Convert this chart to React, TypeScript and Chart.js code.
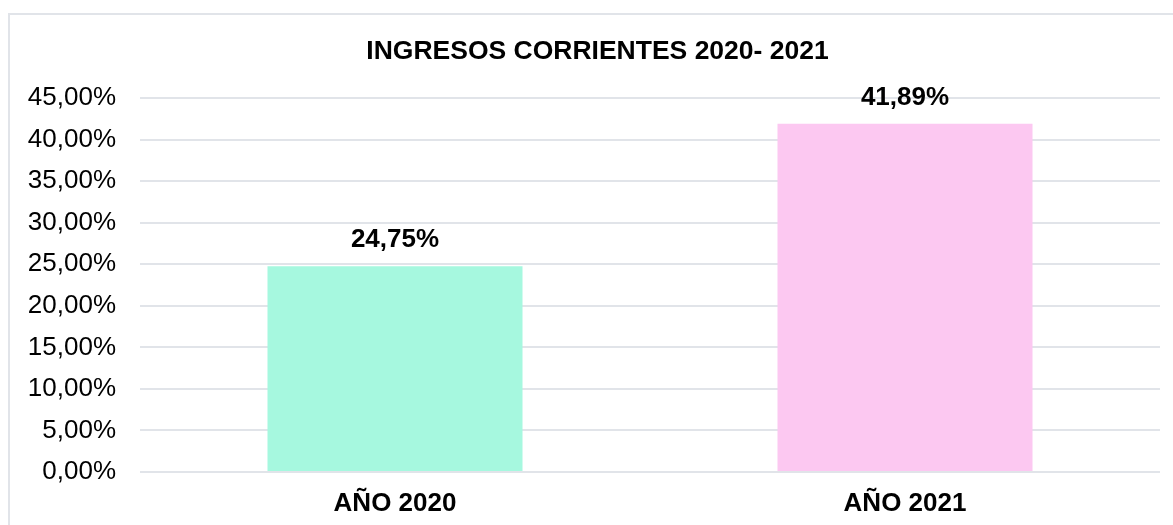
import React, { useEffect, useRef } from "react";
import { Chart, registerables } from "chart.js";

Chart.register(...registerables);

const TITLE = "INGRESOS CORRIENTES 2020- 2021";
const categories = ["AÑO 2020", "AÑO 2021"];
const values = [24.75, 41.89];
const barColors = ["#a6f8df", "#fcc8f1"];
const yMin = 0;
const yMax = 45;
const yStep = 5;

const FONT = "'Liberation Sans', Arial, sans-serif";

const fmt = (v: number) => v.toFixed(2).replace(".", ",") + "%";

const valueLabels = {
  id: "valueLabels",
  afterDatasetsDraw(chart: any) {
    const ctx = chart.ctx;
    const meta = chart.getDatasetMeta(0);
    ctx.save();
    ctx.font = `bold 26px ${FONT}`;
    ctx.fillStyle = "#000";
    ctx.textAlign = "center";
    ctx.textBaseline = "middle";
    meta.data.forEach((bar: any, i: number) => {
      ctx.fillText(fmt(values[i]), bar.x, bar.y - 26);
    });
    ctx.restore();
  },
};

const titleText = {
  id: "titleText",
  afterDraw(chart: any) {
    const ctx = chart.ctx;
    ctx.save();
    ctx.font = `bold 26.5px ${FONT}`;
    ctx.fillStyle = "#000";
    ctx.textAlign = "center";
    ctx.textBaseline = "middle";
    ctx.fillText(TITLE, 587.5, 36.5);
    ctx.restore();
  },
};

export default function App() {
  const ref = useRef<HTMLCanvasElement | null>(null);
  useEffect(() => {
    if (!ref.current) return;
    const chart = new Chart(ref.current, {
      type: "bar",
      data: {
        labels: categories,
        datasets: [
          {
            data: values,
            backgroundColor: barColors,
            borderWidth: 0,
            barPercentage: 0.5,
            categoryPercentage: 1,
          },
        ],
      },
      options: {
        animation: false,
        responsive: false,
        devicePixelRatio: 1,
        layout: { padding: { left: 0, right: 13, top: 0, bottom: 0 } },
        plugins: {
          legend: { display: false },
          tooltip: { enabled: false },
          title: {
            display: true,
            text: TITLE,
            color: "rgba(0,0,0,0)",
            font: { family: FONT, size: 26, weight: "bold", lineHeight: 1.2 },
            padding: { top: 19.4, bottom: 32.4 },
          },
        },
        scales: {
          x: {
            grid: { display: false, drawTicks: false },
            border: { display: false },
            ticks: {
              color: "#000",
              padding: 16,
              font: { family: FONT, size: 26, weight: "bold", lineHeight: 1.2 },
            },
            afterFit: (s: any) => {
              s.height = 53;
            },
          },
          y: {
            min: yMin,
            max: yMax,
            grid: { color: "#e1e4e9", lineWidth: 2, drawTicks: false },
            border: { display: false },
            ticks: {
              stepSize: yStep,
              color: "#000",
              padding: 24,
              font: { family: FONT, size: 26, lineHeight: 1.2 },
              callback: (v: any) => fmt(Number(v)),
            },
            afterFit: (s: any) => {
              s.width = 130;
            },
          },
        },
      },
      plugins: [valueLabels, titleText],
    } as any);
    return () => chart.destroy();
  }, []);

  return (
    <div
      style={{
        position: "absolute",
        left: 8,
        top: 13,
        width: 1165,
        height: 512,
        boxSizing: "border-box",
        borderTop: "2px solid #e1e4e9",
        borderLeft: "2px solid #e1e4e9",
        background: "#fff",
      }}
    >
      <canvas ref={ref} width={1163} height={510} style={{ display: "block" }} />
    </div>
  );
}
